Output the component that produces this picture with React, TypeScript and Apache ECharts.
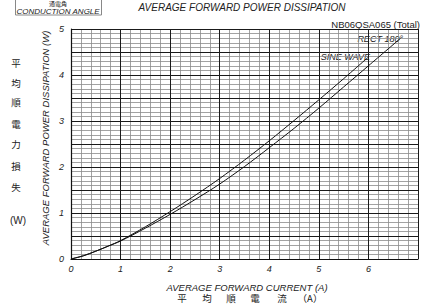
import React, { useEffect, useRef } from "react";
import * as echarts from "echarts";

const sineX = [0, 0.25, 0.5, 0.75, 1, 1.5, 2, 2.5, 3, 3.5, 4, 4.5, 5, 5.5, 6];
const sineY = [0, 0.07, 0.17, 0.28, 0.4, 0.7, 1.03, 1.38, 1.75, 2.15, 2.57, 3.01, 3.46, 3.92, 4.39];
const rectX = [0, 0.25, 0.5, 0.75, 1, 1.5, 2, 2.5, 3, 3.5, 4, 4.5, 5, 5.5, 6, 6.65];
const rectY = [0, 0.07, 0.17, 0.28, 0.39, 0.67, 0.97, 1.29, 1.63, 2.01, 2.42, 2.84, 3.28, 3.74, 4.2, 4.8];
const yJaChars = ["平", "均", "順", "電", "力", "損", "失"];
const xJaChars = ["平", "均", "順", "電", "流"];

const SANS = "'Liberation Sans', Arial, sans-serif";
const CJK = "'Noto Sans CJK JP', sans-serif";

export default function App() {
  const ref = useRef<HTMLDivElement>(null);
  useEffect(() => {
    if (!ref.current) return;
    const chart = echarts.init(ref.current, undefined, { renderer: "svg" });
    const yJaPos = [63, 83, 102, 124, 144, 166, 187];
    const xJaPos = [182, 207, 231, 255, 282];
    const graphics: any[] = [
      {
        type: "rect",
        shape: { x: 15.5, y: -2, width: 86, height: 17 },
        style: { fill: "none", stroke: "#888", lineWidth: 1 },
      },
      {
        type: "text",
        x: 58,
        y: 3.5,
        style: { text: "通電角", font: `6px ${CJK}`, fill: "#222", align: "center", verticalAlign: "middle" },
      },
      {
        type: "text",
        x: 58,
        y: 11,
        style: { text: "CONDUCTION ANGLE", font: `italic 8px ${SANS}`, fill: "#222", align: "center", verticalAlign: "middle" },
      },
      {
        type: "text",
        x: 242,
        y: 7,
        style: { text: "AVERAGE FORWARD POWER DISSIPATION", font: `italic 10px ${SANS}`, fill: "#222", align: "center", verticalAlign: "middle" },
      },
      {
        type: "text",
        x: 420,
        y: 24,
        style: { text: "NB06QSA065 (Total)", font: `9.5px ${SANS}`, fill: "#222", align: "right", verticalAlign: "middle" },
      },
      {
        type: "text",
        x: 403,
        y: 39,
        style: { text: "RECT 180°", font: `italic 9px ${SANS}`, fill: "#222", align: "right", verticalAlign: "middle", backgroundColor: "#fff" },
      },
      {
        type: "text",
        x: 370,
        y: 57,
        style: { text: "SINE WAVE", font: `italic 9px ${SANS}`, fill: "#222", align: "right", verticalAlign: "middle", backgroundColor: "#fff" },
      },
      {
        type: "text",
        x: 45,
        y: 138,
        rotation: Math.PI / 2,
        style: { text: "AVERAGE FORWARD POWER DISSIPATION (W)", font: `italic 9.5px ${SANS}`, fill: "#222", align: "center", verticalAlign: "middle" },
      },
      {
        type: "text",
        x: 247,
        y: 287,
        style: { text: "AVERAGE FORWARD CURRENT (A)", font: `italic 9.5px ${SANS}`, fill: "#222", align: "center", verticalAlign: "middle" },
      },
      {
        type: "text",
        x: 18,
        y: 220,
        style: { text: "(W)", font: `10px ${SANS}`, fill: "#222", align: "center", verticalAlign: "middle" },
      },
      {
        type: "text",
        x: 310,
        y: 298,
        style: { text: "（A）", font: `9.5px ${CJK}`, fill: "#222", align: "center", verticalAlign: "middle" },
      },
    ];
    yJaChars.forEach((c, i) =>
      graphics.push({
        type: "text",
        x: 16,
        y: yJaPos[i],
        style: { text: c, font: `9.5px ${CJK}`, fill: "#222", align: "center", verticalAlign: "middle" },
      })
    );
    xJaChars.forEach((c, i) =>
      graphics.push({
        type: "text",
        x: xJaPos[i],
        y: 298,
        style: { text: c, font: `9.5px ${CJK}`, fill: "#222", align: "center", verticalAlign: "middle" },
      })
    );

    const minorGrid = { show: true, lineStyle: { color: "#8a8a8a", width: 0.8 } };
    const majorGrid = { show: true, lineStyle: { color: "#1a1a1a", width: 1 } };

    chart.setOption({
      animation: false,
      backgroundColor: "#fff",
      grid: { left: 71, top: 29, width: 352, height: 230, containLabel: false },
      xAxis: [
        {
          type: "value",
          min: 0,
          max: 7,
          interval: 0.2,
          axisLine: { show: false },
          axisTick: { show: false },
          axisLabel: { show: false },
          splitLine: minorGrid,
          z: 0,
        },
        {
          type: "value",
          min: 0,
          max: 7,
          interval: 1,
          position: "bottom",
          axisLine: { show: true, onZero: false, lineStyle: { color: "#111", width: 1.2 } },
          axisTick: { show: false },
          axisLabel: {
            formatter: (v: number) => (v >= 7 ? "" : String(v)),
            fontFamily: SANS,
            fontStyle: "italic",
            fontSize: 9,
            color: "#222",
            margin: 5,
          },
          splitLine: majorGrid,
          z: 1,
        },
      ],
      yAxis: [
        {
          type: "value",
          min: 0,
          max: 5,
          interval: 0.1,
          axisLine: { show: false },
          axisTick: { show: false },
          axisLabel: { show: false },
          splitLine: minorGrid,
          z: 0,
        },
        {
          type: "value",
          min: 0,
          max: 5,
          interval: 0.5,
          position: "left",
          axisLine: { show: true, onZero: false, lineStyle: { color: "#111", width: 1.2 } },
          axisTick: { show: false },
          axisLabel: {
            formatter: (v: number) => (Math.abs(v % 1) < 1e-6 ? String(v) : ""),
            fontFamily: SANS,
            fontStyle: "italic",
            fontSize: 9,
            color: "#222",
            margin: 7,
          },
          splitLine: majorGrid,
          z: 1,
        },
      ],
      series: [
        {
          name: "SINE WAVE",
          type: "line",
          xAxisIndex: 1,
          yAxisIndex: 1,
          smooth: 0.3,
          symbol: "none",
          lineStyle: { color: "#111", width: 1 },
          data: sineX.map((x, i) => [x, sineY[i]]),
          z: 5,
        },
        {
          name: "RECT 180°",
          type: "line",
          xAxisIndex: 1,
          yAxisIndex: 1,
          smooth: 0.3,
          symbol: "none",
          lineStyle: { color: "#111", width: 1 },
          data: rectX.map((x, i) => [x, rectY[i]]),
          z: 5,
        },
      ],
      graphic: graphics,
    });
    return () => chart.dispose();
  }, []);
  return (
    <div
      ref={ref}
      style={{ position: "absolute", left: 0, top: 0, width: 421, height: 305, background: "#fff" }}
    />
  );
}
